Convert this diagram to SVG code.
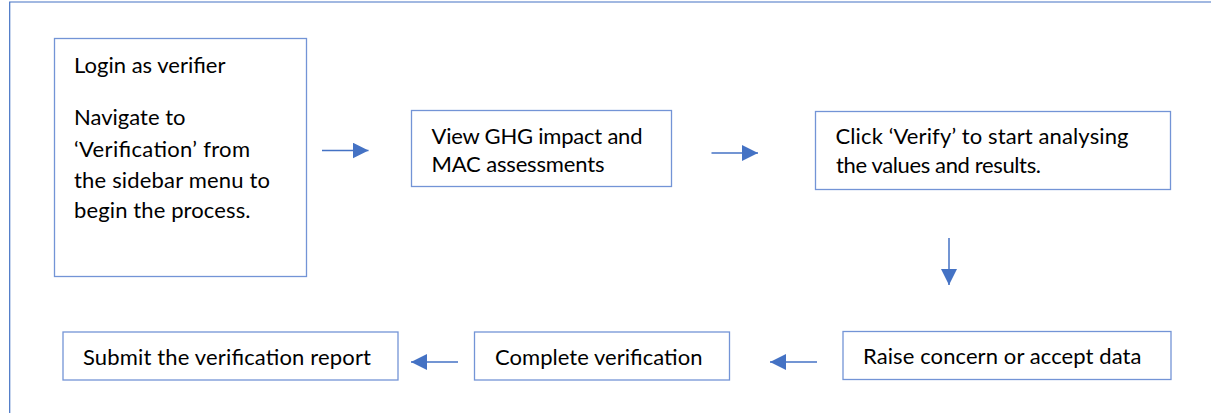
<svg xmlns="http://www.w3.org/2000/svg" width="1211" height="413" viewBox="0 0 1211 413">
<style>
.box{fill:#fff;stroke:#7394D6;stroke-width:1.3}
.t{font-family:Lato,"Open Sans","Liberation Sans",sans-serif;font-size:22px;fill:#000}
.c{stroke:#4472C4;stroke-width:1.5;fill:none}
.frame{stroke:#4472C4;stroke-width:1.2;fill:none}
</style>
<defs>
<marker id="ah" markerWidth="16" markerHeight="16" refX="16" refY="8" orient="auto" markerUnits="userSpaceOnUse" viewBox="0 0 16 16">
<path d="M0,0 L16,8 L0,16 Z" fill="#4472C4"/>
</marker>
</defs>
<path class="frame" d="M9.7,413 V2 H1211"/>
<g id="n1"><rect class="box" x="54.5" y="38.5" width="252" height="238"/>
<text class="t" x="74" y="73" textLength="151.5" lengthAdjust="spacing">Login as verifier</text>
<text class="t" x="74" y="125" textLength="111.5" lengthAdjust="spacing">Navigate to</text>
<text class="t" x="74" y="156.5" textLength="176" lengthAdjust="spacing">‘Verification’ from</text>
<text class="t" x="74" y="187.5" textLength="196" lengthAdjust="spacing">the sidebar menu to</text>
<text class="t" x="74" y="218" textLength="176.5" lengthAdjust="spacing">begin the process.</text></g>
<g id="n2"><rect class="box" x="411.5" y="110.5" width="260" height="76"/>
<text class="t" x="431.5" y="144" textLength="211" lengthAdjust="spacing">View GHG impact and</text>
<text class="t" x="431.5" y="172" textLength="173" lengthAdjust="spacing">MAC assessments</text></g>
<g id="n3"><rect class="box" x="815.5" y="111.5" width="355" height="78"/>
<text class="t" x="835.5" y="144" textLength="293" lengthAdjust="spacing">Click ‘Verify’ to start analysing</text>
<text class="t" x="836" y="173" textLength="205" lengthAdjust="spacing">the values and results.</text></g>
<g id="n4"><rect class="box" x="843" y="331.5" width="328" height="48"/>
<text class="t" x="863" y="363.5" textLength="278.5" lengthAdjust="spacing">Raise concern or accept data</text></g>
<g id="n5"><rect class="box" x="474.5" y="332" width="255" height="48"/>
<text class="t" x="495" y="365" textLength="207.5" lengthAdjust="spacing">Complete verification</text></g>
<g id="n6"><rect class="box" x="63" y="332" width="335" height="48"/>
<text class="t" x="83" y="364.5" textLength="288" lengthAdjust="spacing">Submit the verification report</text></g>
<g id="connectors">
<line class="c" x1="322" y1="150.5" x2="368.5" y2="150.5" marker-end="url(#ah)"/>
<line class="c" x1="711.5" y1="153" x2="758" y2="153" marker-end="url(#ah)"/>
<line class="c" x1="949" y1="238" x2="949" y2="285" marker-end="url(#ah)"/>
<line class="c" x1="817" y1="362" x2="770" y2="362" marker-end="url(#ah)"/>
<line class="c" x1="458" y1="362" x2="411" y2="362" marker-end="url(#ah)"/>
</g>
</svg>
